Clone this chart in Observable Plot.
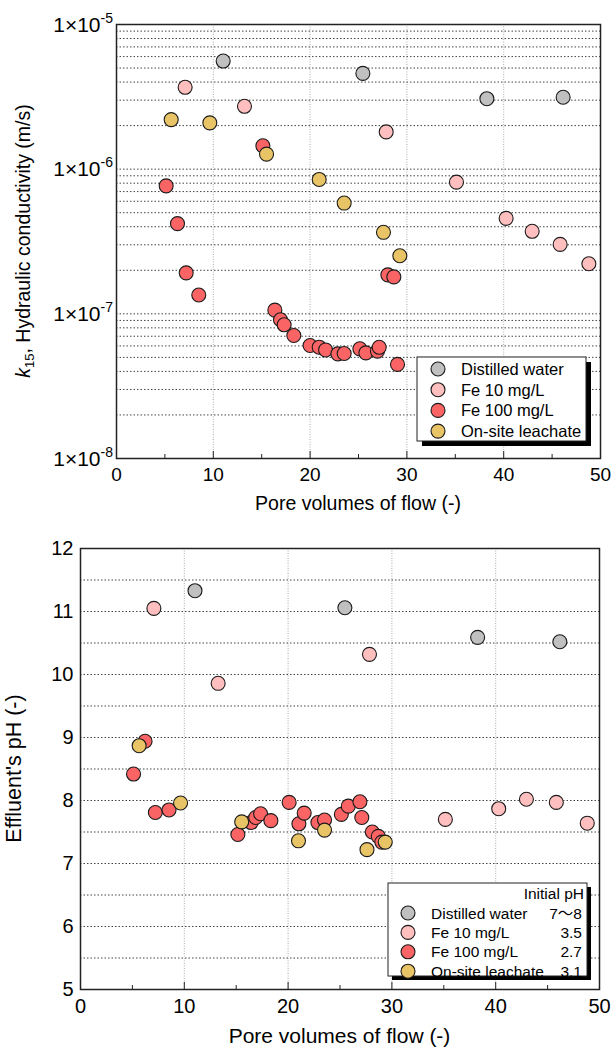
<!DOCTYPE html>
<html><head><meta charset="utf-8">
<script src="https://cdn.jsdelivr.net/npm/d3@7"></script>
<script src="https://cdn.jsdelivr.net/npm/@observablehq/plot@0.6"></script>
<style>
body{margin:0;background:#fff;font-family:"Liberation Sans",Arial,sans-serif;}
#wrap{position:relative;width:611px;height:1048px;overflow:hidden;}
#top{position:absolute;left:0;top:0;}
#bot{position:absolute;left:0;top:520px;}
svg{overflow:visible;}
.ktick{font-size:21px !important;}
.ktick .kexp{font-size:14px !important;}
</style></head><body><div id="wrap"><div id="top"></div><div id="bot"></div></div>
<script>
// ---------- categories ----------
const series = ["Distilled water", "Fe 10 mg/L", "Fe 100 mg/L", "On-site leachate"];
const initialPH = ["7\u301C8", "3.5", "2.7", "3.1"];
const colors = ["#c0c0c0", "#ffbfbf", "#fa6464", "#e9c466"];

// ---------- top panel: k15 (m/s) vs pore volumes ----------
const kDistilledX = [11.02, 25.45, 38.26, 46.14];
const kDistilledY = [5.59e-6, 4.59e-6, 3.07e-6, 3.14e-6];
const kFe10X = [7.09, 13.22, 27.86, 35.12, 40.25, 42.94, 45.83, 48.8];
const kFe10Y = [3.68e-6, 2.72e-6, 1.81e-6, 8.13e-7, 4.57e-7, 3.72e-7, 3.02e-7, 2.22e-7];
const kFe100X = [5.13, 6.30, 7.2, 8.5, 15.12, 16.36, 16.94, 17.32, 18.32, 20.0, 20.94, 21.6, 22.87, 23.52, 25.14, 25.76, 26.96, 27.14, 28.03, 28.65, 29.03];
const kFe100Y = [7.67e-7, 4.2e-7, 1.92e-7, 1.35e-7, 1.45e-6, 1.06e-7, 9.1e-8, 8.4e-8, 7.08e-8, 6.04e-8, 5.88e-8, 5.63e-8, 5.29e-8, 5.32e-8, 5.73e-8, 5.37e-8, 5.52e-8, 5.87e-8, 1.86e-7, 1.80e-7, 4.47e-8];
const kLeachX = [5.65, 9.64, 15.5, 20.94, 23.52, 27.58, 29.27];
const kLeachY = [2.2e-6, 2.09e-6, 1.27e-6, 8.49e-7, 5.83e-7, 3.66e-7, 2.52e-7];

// ---------- bottom panel: effluent pH vs pore volumes ----------
const pDistilledX = [11.03, 25.47, 38.26, 46.18];
const pDistilledY = [11.33, 11.06, 10.59, 10.52];
const pFe10X = [7.07, 13.26, 27.84, 35.15, 40.29, 42.96, 45.84, 48.82];
const pFe10Y = [11.05, 9.86, 10.32, 7.70, 7.87, 8.02, 7.97, 7.64];
const pFe100X = [5.11, 6.22, 7.21, 8.53, 15.16, 16.44, 16.88, 17.35, 18.34, 20.1, 21.04, 21.55, 22.87, 23.51, 25.13, 25.8, 26.92, 27.1, 28.11, 28.69, 29.03];
const pFe100Y = [8.42, 8.94, 7.81, 7.85, 7.46, 7.65, 7.73, 7.79, 7.68, 7.97, 7.63, 7.80, 7.65, 7.69, 7.78, 7.91, 7.98, 7.73, 7.50, 7.43, 7.34];
const pLeachX = [5.65, 9.64, 15.53, 21.0, 23.51, 27.6, 29.36];
const pLeachY = [8.87, 7.96, 7.66, 7.36, 7.53, 7.22, 7.34];

// ---------- tick labels ----------
const xTicks = [0, 10, 20, 30, 40, 50];
const xMinorTicks = [5, 15, 25, 35, 45];
const kTicks = [1e-8, 1e-7, 1e-6, 1e-5];
const kTickExp = ["-8", "-7", "-6", "-5"];
const pHTicks = [5, 6, 7, 8, 9, 10, 11, 12];
const pHHalfTicks = [5.5, 6.5, 7.5, 8.5, 9.5, 10.5, 11.5];
const logMultiples = [2, 3, 4, 5, 6, 7, 8, 9];

const rows = (xs, ys, s) => xs.map((x, i) => ({series: s, x, y: ys[i]}));
const topRows = [
  ...rows(kDistilledX, kDistilledY, series[0]),
  ...rows(kFe10X, kFe10Y, series[1]),
  ...rows(kFe100X, kFe100Y, series[2]),
  ...rows(kLeachX, kLeachY, series[3])
];
const botRows = [
  ...rows(pDistilledX, pDistilledY, series[0]),
  ...rows(pFe10X, pFe10Y, series[1]),
  ...rows(pFe100X, pFe100Y, series[2]),
  ...rows(pLeachX, pLeachY, series[3])
];
const kMinor = [];
kTicks.slice(0, 3).forEach(d => logMultiples.forEach(m => kMinor.push(d * m)));

const FONT = "Liberation Sans, Arial, sans-serif";
const gridH = {stroke: "#444", strokeOpacity: 1, strokeWidth: 1, strokeDasharray: "1.5,2"};
const gridV = {stroke: "#aaa", strokeOpacity: 1, strokeWidth: 1, strokeDasharray: "1,1.5"};
const dotOpts = {x: "x", y: "y", fill: "series", r: 7, stroke: "#1a1a1a", strokeWidth: 1.1};

// ================= TOP =================
const T = {w: 611, h: 520, ml: 116, mr: 11, mt: 24, mb: 62};
const topPlot = Plot.plot({
  width: T.w, height: T.h,
  marginLeft: T.ml, marginRight: T.mr, marginTop: T.mt, marginBottom: T.mb,
  style: {fontFamily: FONT, color: "#000", background: "transparent"},
  x: {domain: [0, 50]},
  y: {type: "log", domain: [1e-8, 1e-5], axis: null},
  color: {domain: series, range: colors},
  marks: [
    Plot.gridX([10, 20, 30, 40], gridV),
    Plot.gridY([...kMinor, 1e-7, 1e-6], gridH),
    Plot.ruleX(xMinorTicks, {x: d => d, stroke: "#222", insetTop: T.h - T.mt - T.mb - 4}),
    Plot.ruleX(xTicks, {x: d => d, stroke: "#222", insetTop: T.h - T.mt - T.mb - 7}),
    Plot.axisX(xTicks, {tickSize: 0, tickPadding: 9, fontSize: 19, label: null}),
    Plot.dot(topRows, dotOpts),
    Plot.frame({stroke: "#222", strokeWidth: 1.5})
  ]
});
document.getElementById("top").appendChild(topPlot);
const ts = d3.select(topPlot);

// log tick labels with superscript exponents, placed through the plot's y scale
{
  const ys = topPlot.scale("y");
  const g = ts.append("g").attr("font-family", FONT).attr("text-anchor", "end").attr("font-size", 21);
  kTicks.forEach((v, i) => {
    const t = g.append("text").attr("class", "ktick").attr("x", 113).attr("y", ys.apply(v) + 7.5);
    t.append("tspan").text("1\u00D710");
    t.append("tspan").attr("class", "kexp").attr("dy", -9).text(kTickExp[i]);
  });
}

ts.append("text").attr("x", (T.ml + T.w - T.mr) / 2).attr("y", 510)
  .attr("text-anchor", "middle").attr("font-size", 19.5).attr("font-family", FONT)
  .text("Pore volumes of flow (-)");
const yt = ts.append("text").attr("transform", `translate(30,${(T.mt + T.h - T.mb) / 2}) rotate(-90)`)
  .attr("text-anchor", "middle").attr("font-size", 19.5).attr("font-family", FONT);
yt.append("tspan").attr("font-style", "italic").text("k");
yt.append("tspan").attr("font-size", 13).attr("dy", 4).text("15");
yt.append("tspan").attr("dy", -4).text(", Hydraulic conductivity (m/s)");

// top legend
{
  const g = ts.append("g").attr("font-family", FONT).attr("font-size", 16.5).attr("text-anchor", "start");
  const bx = 417, by = 357, bw = 169, bh = 84;
  g.append("rect").attr("x", bx + 5).attr("y", by + 5).attr("width", bw).attr("height", bh).attr("fill", "#000");
  g.append("rect").attr("x", bx).attr("y", by).attr("width", bw).attr("height", bh).attr("fill", "#fff").attr("stroke", "#222").attr("stroke-width", 1);
  series.forEach((s, i) => {
    const cy = 369 + i * 20.7;
    g.append("circle").attr("cx", 438).attr("cy", cy).attr("r", 7).attr("fill", colors[i]).attr("stroke", "#1a1a1a").attr("stroke-width", 1.1);
    g.append("text").attr("x", 461).attr("y", cy + 6).attr("text-anchor", "start").text(s);
  });
}

// ================= BOTTOM =================
const B = {w: 611, h: 528, ml: 80, mr: 12, mt: 28, mb: 59};
const botPlot = Plot.plot({
  width: B.w, height: B.h,
  marginLeft: B.ml, marginRight: B.mr, marginTop: B.mt, marginBottom: B.mb,
  style: {fontFamily: FONT, color: "#000", background: "transparent"},
  x: {domain: [0, 50]},
  y: {domain: [5, 12]},
  color: {domain: series, range: colors},
  marks: [
    Plot.gridX([10, 20, 30, 40], gridV),
    Plot.gridY([...pHHalfTicks, 6, 7, 8, 9, 10, 11], gridH),
    Plot.ruleX(xMinorTicks, {x: d => d, stroke: "#222", insetTop: B.h - B.mt - B.mb - 4}),
    Plot.ruleX(xTicks, {x: d => d, stroke: "#222", insetTop: B.h - B.mt - B.mb - 7}),
    Plot.axisX(xTicks, {tickSize: 0, tickPadding: 9, fontSize: 20, label: null}),
    Plot.axisY(pHTicks, {tickSize: 0, tickPadding: 7, fontSize: 20, label: null, tickFormat: d => String(d)}),
    Plot.dot(botRows, dotOpts),
    Plot.frame({stroke: "#222", strokeWidth: 1.5})
  ]
});
document.getElementById("bot").appendChild(botPlot);
const bs = d3.select(botPlot);
bs.append("text").attr("x", (B.ml + B.w - B.mr) / 2).attr("y", 523)
  .attr("text-anchor", "middle").attr("font-size", 21).attr("font-family", FONT)
  .text("Pore volumes of flow (-)");
bs.append("text").attr("transform", `translate(21,${(B.mt + B.h - B.mb) / 2}) rotate(-90)`)
  .attr("text-anchor", "middle").attr("font-size", 21.5).attr("font-family", FONT)
  .text("Effluent's pH (-)");

// bottom legend (coordinates relative to bottom svg, top offset 520)
{
  const off = 520;
  const g = bs.append("g").attr("font-family", FONT).attr("font-size", 15.5).attr("text-anchor", "start");
  const bx = 388, by = 883 - off, bw = 199, bh = 93;
  g.append("rect").attr("x", bx + 4).attr("y", by + 4).attr("width", bw).attr("height", bh).attr("fill", "#000");
  g.append("rect").attr("x", bx).attr("y", by).attr("width", bw).attr("height", bh).attr("fill", "#fff").attr("stroke", "#222").attr("stroke-width", 1);
  g.append("text").attr("x", 584).attr("y", 899 - off).attr("text-anchor", "end").text("Initial pH");
  series.forEach((s, i) => {
    const cy = 913 - off + i * 19.4;
    g.append("circle").attr("cx", 408).attr("cy", cy).attr("r", 7).attr("fill", colors[i]).attr("stroke", "#1a1a1a").attr("stroke-width", 1.1);
    g.append("text").attr("x", 431).attr("y", cy + 5.5).attr("text-anchor", "start").text(s);
    g.append("text").attr("x", 582).attr("y", cy + 5.5).attr("text-anchor", "end")
      .attr("font-family", i === 0 ? "Liberation Sans, 'Noto Sans CJK JP', sans-serif" : FONT).text(initialPH[i]);
  });
}
</script></body></html>
